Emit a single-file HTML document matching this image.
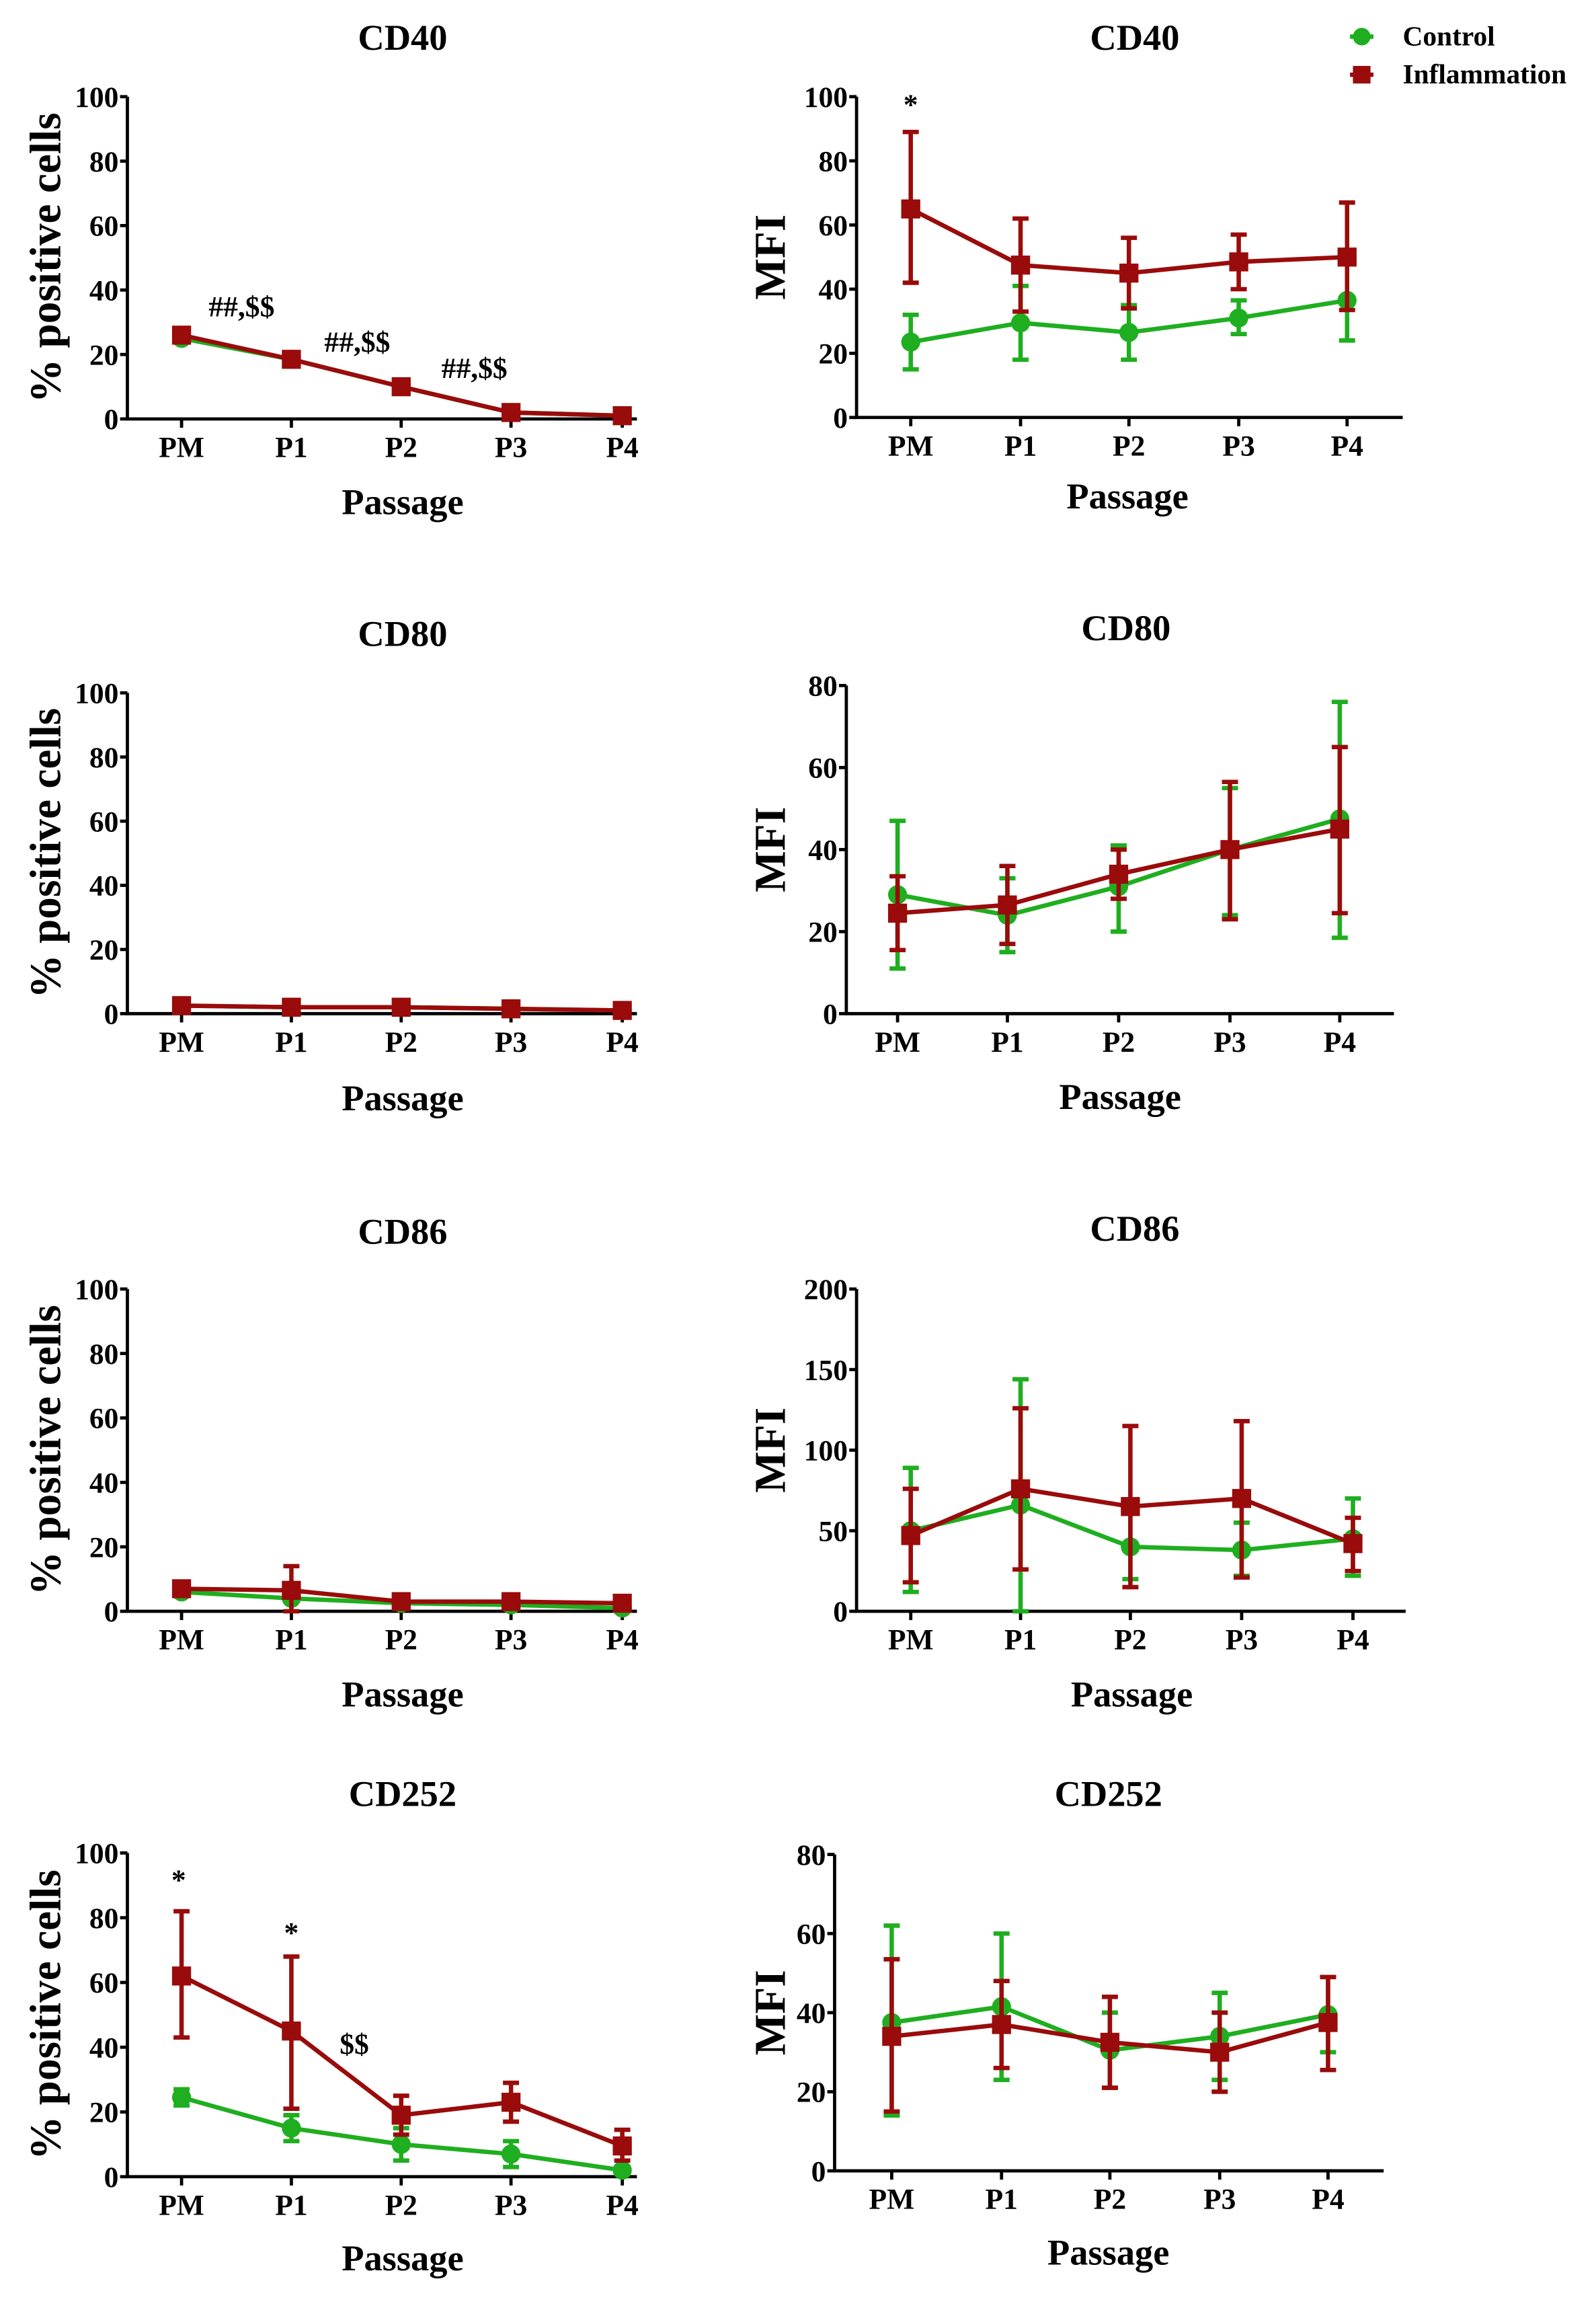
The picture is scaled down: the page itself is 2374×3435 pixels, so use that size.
<!DOCTYPE html>
<html><head><meta charset="utf-8">
<style>
html,body{margin:0;padding:0;background:#fff;}
svg{display:block;}
text{font-family:"Liberation Serif",serif;font-weight:bold;fill:#000;}
</style></head>
<body>
<svg id="s" width="2374" height="3435" viewBox="0 0 1090 1577" preserveAspectRatio="none" xmlns="http://www.w3.org/2000/svg"></svg>
<script>
const G="#1fae1f",R="#9a0b0b";
const P=[
{ax:87,top:66,bot:286,end:435,xs:[124,199,274,349,425],max:100,step:20,title:"CD40",ty:25,tx:275,yl:"% positive cells",ylx:30,py:342,pcx:275,
 c:[[25],[18.5],[10],[2],[1]],r:[[26],[18.5],[10],[2],[1]],ann:[["##,$$",165,216],["##,$$",244,240],["##,$$",324,258]]},
{ax:585,top:66,bot:285,end:958,xs:[622,697,771,846,920],max:100,step:20,title:"CD40",ty:25,tx:775,yl:"MFI",ylx:525,py:338,pcx:770,
 c:[[23.5,15,32],[29.5,18,41],[26.5,18,35],[31,26,36.5],[36.5,24,36.5]],r:[[65,42,89],[47.5,33,62],[45,34,56],[48.5,40,57],[50,33.5,67]],ann:[["*",622,78]]},
{ax:87,top:473,bot:692,end:435,xs:[124,199,274,349,425],max:100,step:20,title:"CD80",ty:432,tx:275,yl:"% positive cells",ylx:30,py:749,pcx:275,
 c:[[2.5],[2],[2],[1.5],[1]],r:[[2.5],[2],[2],[1.5],[1]],ann:[]},
{ax:578,top:468,bot:692,end:952,xs:[613,688,764,840,915],max:80,step:20,title:"CD80",ty:428,tx:769,yl:"MFI",ylx:525,py:748,pcx:765,
 c:[[29,11,47],[24,15,33],[31,20,41],[40,24,55],[47.5,18.5,76]],r:[[24.5,15.5,33.5],[26.5,17,36],[34,28,40],[40,23,56.5],[45,24.5,65]],ann:[]},
{ax:87,top:880,bot:1100,end:435,xs:[124,199,274,349,425],max:100,step:20,title:"CD86",ty:840,tx:275,yl:"% positive cells",ylx:30,py:1156,pcx:275,
 c:[[6],[4],[2.5],[2],[1]],r:[[7,5,9],[6.5,0,14],[3],[3],[2.5]],ann:[]},
{ax:585,top:880,bot:1100,end:960,xs:[622,697,772,848,924],max:200,step:50,title:"CD86",ty:838,tx:775,yl:"MFI",ylx:525,py:1156,pcx:773,
 c:[[50,12,89],[66,0,144],[40,20,62],[38,22,55],[45,22,70]],r:[[47,18,76],[76,26,126],[65,15,115],[70,21,118],[42,25,58]],ann:[]},
{ax:87,top:1265,bot:1486,end:435,xs:[124,199,274,349,425],max:100,step:20,title:"CD252",ty:1224,tx:275,yl:"% positive cells",ylx:30,py:1541,pcx:275,
 c:[[24.5,22,27],[15,11,19],[10,5,15],[7,3,11],[2,1,3]],r:[[62,43,82],[45,21,68],[19,13,25],[23,17,29],[9.5,5,14.5]],ann:[["*",122,1290],["*",199,1326],["$$",242,1402]]},
{ax:570,top:1266,bot:1482,end:945,xs:[609,684,758,833,907],max:80,step:20,title:"CD252",ty:1224,tx:757,yl:"MFI",ylx:525,py:1537,pcx:757,
 c:[[37.5,14,62],[41.5,23,60],[30.5,21,40],[34,23,45],[39.5,30,49]],r:[[34,15,53.5],[37,26,48],[32.5,21,44],[30,20,40],[37.5,25.5,49]],ann:[]}
];
let h="";
const L=["PM","P1","P2","P3","P4"];
for(const p of P){
 const Y=v=>p.bot-(v/p.max)*(p.bot-p.top);
 h+=`<text x="${p.tx}" y="${p.ty+9}" font-size="25" text-anchor="middle">${p.title}</text>`;
 h+=`<path d="M${p.ax} ${p.top}V${p.bot}H${p.end}" stroke="#000" stroke-width="2.2" fill="none"/>`;
 for(let v=0;v<=p.max;v+=p.step){const y=Y(v);h+=`<line x1="${p.ax-5}" x2="${p.ax}" y1="${y}" y2="${y}" stroke="#000" stroke-width="2.2"/><text x="${p.ax-6}" y="${y+7}" font-size="20" text-anchor="end">${v}</text>`;}
 p.xs.forEach((x,i)=>{h+=`<line x1="${x}" x2="${x}" y1="${p.bot}" y2="${p.bot+6}" stroke="#000" stroke-width="2.2"/><text x="${x}" y="${p.bot+26}" font-size="20" text-anchor="middle">${L[i]}</text>`;});
 h+=`<text x="${p.pcx}" y="${p.py+9}" font-size="25" text-anchor="middle">Passage</text>`;
 const cy=(p.top+p.bot)/2;
 h+=`<text x="${p.ylx+11}" y="${cy}" font-size="30" text-anchor="middle" transform="rotate(-90 ${p.ylx+11} ${cy})">${p.yl}</text>`;
 for(const [s,col] of [[p.c,G],[p.r,R]]){
  s.forEach((d,i)=>{if(d.length>1){const x=p.xs[i];h+=`<path d="M${x} ${Y(d[1])}V${Y(d[2])}M${x-5.5} ${Y(d[1])}h11M${x-5.5} ${Y(d[2])}h11" stroke="${col}" stroke-width="3" fill="none"/>`;}});
  h+=`<polyline points="${s.map((d,i)=>p.xs[i]+","+Y(d[0])).join(" ")}" stroke="${col}" stroke-width="3" fill="none"/>`;
  s.forEach((d,i)=>{const x=p.xs[i],y=Y(d[0]);h+= col==G?`<circle cx="${x}" cy="${y}" r="6.5" fill="${G}"/>`:`<rect x="${x-6.5}" y="${y-6.5}" width="13" height="13" fill="${R}"/>`;});
 }
 for(const a of p.ann)h+=`<text x="${a[1]}" y="${a[2]}" font-size="20" text-anchor="middle">${a[0]}</text>`;
}
h+=`<line x1="922" x2="938" y1="25" y2="25" stroke="${G}" stroke-width="3"/><circle cx="930" cy="25" r="6" fill="${G}"/><text x="958" y="31" font-size="19">Control</text>`;
h+=`<line x1="922" x2="938" y1="51" y2="51" stroke="${R}" stroke-width="3"/><rect x="924" y="45" width="12" height="12" fill="${R}"/><text x="958" y="57" font-size="19">Inflammation</text>`;
document.getElementById("s").innerHTML=h;
</script>
</body></html>
